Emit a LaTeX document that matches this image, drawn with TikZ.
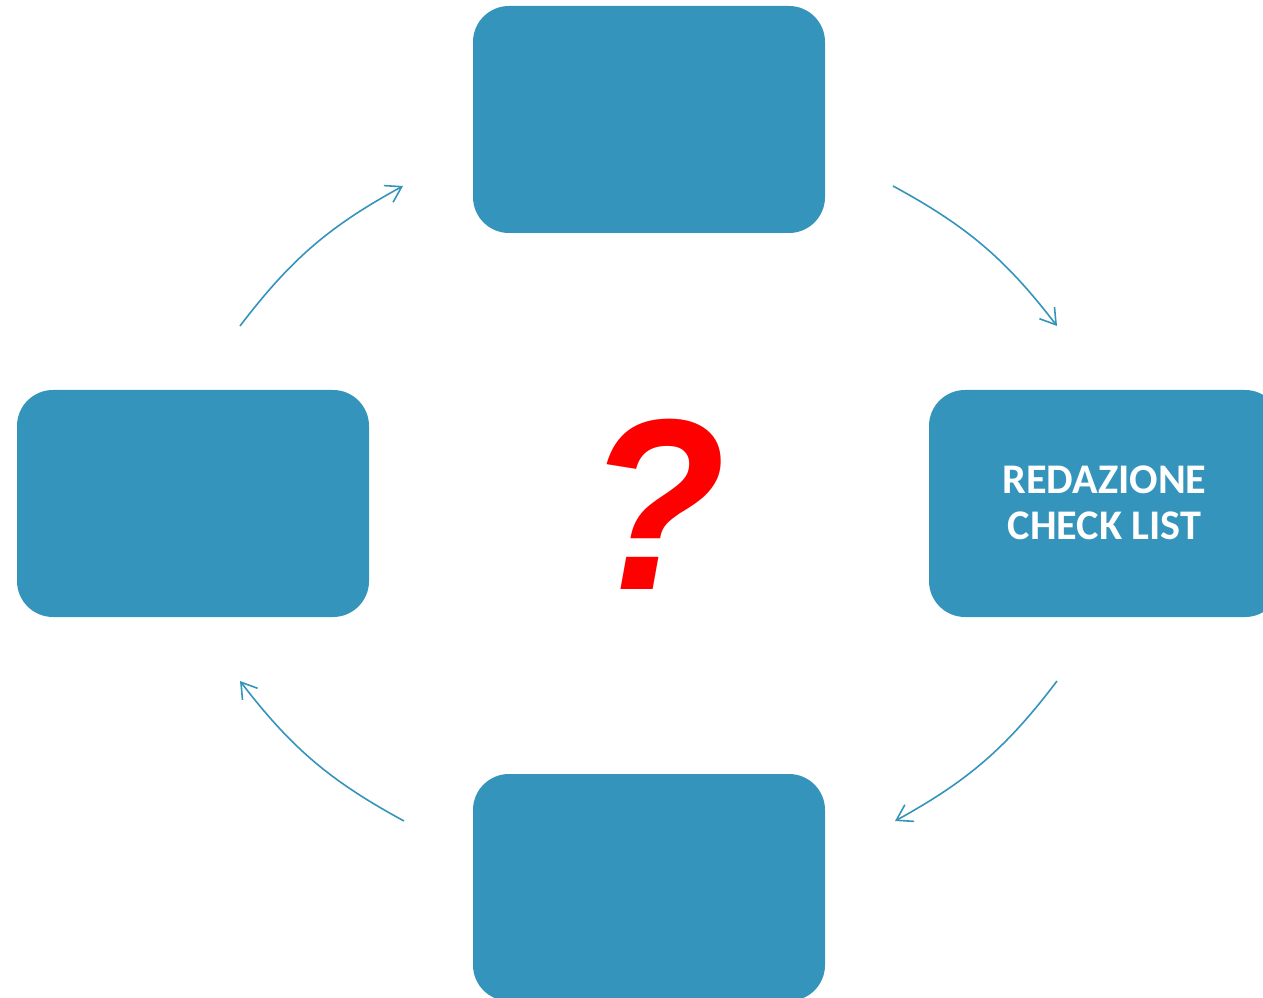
\documentclass[tikz,border=0pt]{standalone}
\usepackage{fontspec}
\newfontfamily\carlito{Carlito}
\newfontfamily\arialish{Liberation Sans}
\usetikzlibrary{arrows.meta}
\definecolor{boxblue}{HTML}{3594BB}
\tikzset{
  cyclebox/.style={fill=boxblue, draw=none, rounded corners=36pt, minimum width=352pt, minimum height=227pt, inner sep=0pt},
  cyclearrow/.style={draw=boxblue, line width=1.6pt, bend left=12, -{Straight Barb[length=15pt,width=19pt,line width=1.6pt]}},
  boxtext/.style={text=white, align=center, inner sep=0pt, font=\carlito\bfseries\fontsize{42.2}{46.6}\selectfont}
}
\begin{document}
\begin{tikzpicture}[x=1pt,y=1pt]
\useasboundingbox (0,0) rectangle (1263,997);
\clip (0,0) rectangle (1263,997);
\node[cyclebox] (top) at (649,877.5) {};
\node[cyclebox] (left) at (193,493.5) {};
\node[cyclebox] (right) at (1105,493.5) {};
\node[cyclebox] (bottom) at (649,109.5) {};
\node[boxtext] (rtext) at (1104.5,494.2) {REDAZIONE\\CHECK LIST};
\node[anchor=base, inner sep=0pt, text=red, font=\arialish\bfseries\itshape\fontsize{244}{244}\selectfont] (qm) at (656,408) {\scalebox{0.935}[1]{?}};
\coordinate (a1s) at (240,671);
\coordinate (a1e) at (403,811);
\coordinate (a2s) at (893,811);
\coordinate (a2e) at (1057,671);
\coordinate (a3s) at (1057,316);
\coordinate (a3e) at (895,176);
\coordinate (a4s) at (404,176);
\coordinate (a4e) at (240,316);
\draw[cyclearrow] (a1s) to (a1e);
\draw[cyclearrow] (a2s) to (a2e);
\draw[cyclearrow] (a3s) to (a3e);
\draw[cyclearrow] (a4s) to (a4e);
\end{tikzpicture}
\end{document}
